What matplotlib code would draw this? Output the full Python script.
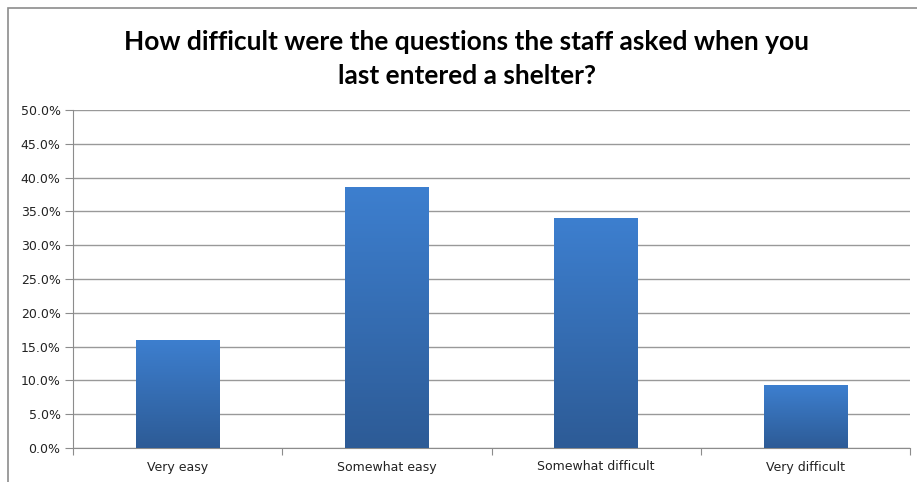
import matplotlib.pyplot as plt
import numpy as np
from matplotlib.patches import Rectangle
from matplotlib.ticker import FuncFormatter

categories = ['Very easy', 'Somewhat easy', 'Somewhat difficult', 'Very difficult']
percents = [16.0, 38.6, 34.0, 9.3]
title = 'How difficult were the questions the staff asked when you\nlast entered a shelter?'

W, H = 917, 482
fig = plt.figure(figsize=(W / 100, H / 100), dpi=100)
fig.patch.set_facecolor('white')

# chart frame (cut off at the right and bottom like the screenshot)
fig.patches.append(Rectangle((8 / W, -0.1), 1.2, 1.1 - 8 / H, transform=fig.transFigure,
                             fill=False, edgecolor='#8c8c8c', linewidth=1.2))

ax = fig.add_axes([73 / W, 34 / H, (910 - 73) / W, (448 - 110) / H])
x = np.arange(len(categories))
bars = ax.bar(x, percents, width=0.4, color='none', edgecolor='none', zorder=3)

# vertical gradient inside each bar
grad = np.linspace(0, 1, 256).reshape(-1, 1)
cmap = plt.matplotlib.colors.LinearSegmentedColormap.from_list('bar', ['#2d5b96', '#3d7fcf'])
for b in bars:
    x0, y0 = b.get_x(), b.get_y()
    im = ax.imshow(grad, cmap=cmap, origin='lower', aspect='auto', zorder=3,
                   extent=[x0, x0 + b.get_width(), y0, y0 + b.get_height()])
    im.set_clip_path(b)

ax.set_xlim(-0.5, len(categories) - 0.5)
ax.set_ylim(0, 50)
ax.set_yticks(np.arange(0, 50.1, 5))
ax.yaxis.set_major_formatter(FuncFormatter(lambda v, p: f'{v:.1f}%'))
ax.yaxis.grid(True, color='#999999', linewidth=1)
ax.set_axisbelow(True)

ax.set_xticks(np.arange(-0.5, len(categories), 1))
ax.set_xticklabels([])
ax.set_xticks(x, minor=True)
ax.set_xticklabels(categories, minor=True)
ax.tick_params(axis='x', which='major', length=5, color='#8c8c8c', direction='out')
ax.tick_params(axis='x', which='minor', length=0, pad=9, labelsize=9, labelcolor='#222222')
ax.tick_params(axis='y', length=6, color='#8c8c8c', pad=3, labelsize=9, labelcolor='#222222')

for s in ['top', 'right']:
    ax.spines[s].set_visible(False)
for s in ['left', 'bottom']:
    ax.spines[s].set_color('#8c8c8c')

fig.text(467 / W, 1 - 59 / H, title, ha='center', va='center', fontsize=19,
         fontweight='bold', family='Lato', linespacing=1.5)

fig.savefig('out.png', dpi=100)
